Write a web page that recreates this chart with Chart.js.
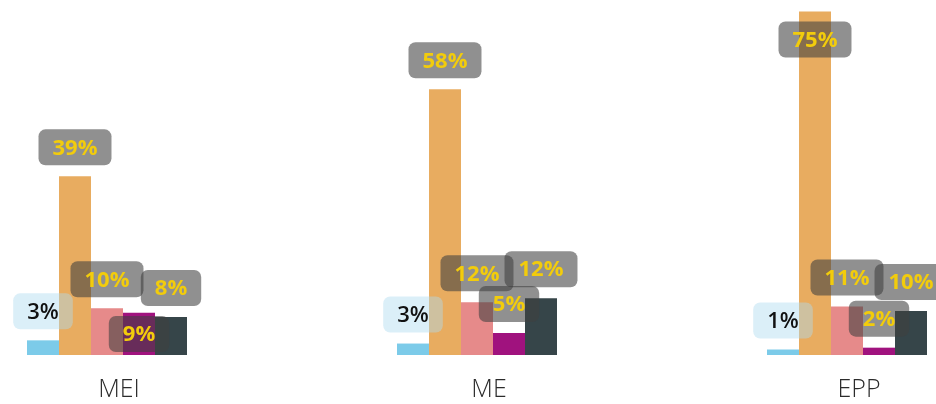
<!DOCTYPE html>
<html>
<head>
<meta charset="utf-8">
<script src="https://cdn.jsdelivr.net/npm/chart.js@4.4.1/dist/chart.umd.min.js"></script>
<style>
  html, body { margin: 0; padding: 0; background: #fff; }
  #wrap { position: relative; width: 936px; height: 404px; overflow: hidden; }
  #chart { position: absolute; left: -78px; top: 0; }
</style>
</head>
<body>
<div id="wrap"><canvas id="chart" width="1110" height="404"></canvas></div>
<script>
// categories and series values (percent)
const categories = ['MEI', 'ME', 'EPP'];
const seriesA = [3.2, 2.5, 1.2];
const seriesB = [39, 58, 75];
const seriesC = [10.2, 11.5, 10.6];
const seriesD = [9.2, 4.8, 1.6];
const seriesE = [8.3, 12.4, 9.6];

const colors = ['#7ccbe9', '#e8ac60', '#e68a8a', '#a0127e', '#364549'];

// label boxes drawn over the bars
const labelBoxes = {
    id: 'labelBoxes',
    afterDatasetsDraw(chart) {
        const ctx = chart.ctx;
        const placed = [];
        ctx.save();
        chart.data.datasets.forEach((ds, di) => {
            const meta = chart.getDatasetMeta(di);
            meta.data.forEach((bar, i) => {
                const txt = Math.round(ds.data[i]) + '%';
                const first = di === 0;
                ctx.font = (first ? '600 ' : 'bold ') + '22px "Open Sans", sans-serif';
                const w = ctx.measureText(txt).width + 28;
                const h = 36;
                let x = bar.x - w / 2;
                let y = bar.y - 11 - h;
                if (y < 0) {
                    y = bar.y + 10;
                }
                const clash = placed.some(p => p.i === i &&
                    Math.min(p.x + p.w, x + w) - Math.max(p.x, x) > 20 &&
                    Math.min(p.y + p.h, y + h) - Math.max(p.y, y) > 8);
                if (clash) {
                    y = (bar.y + bar.base) / 2 - h / 2;
                }
                placed.push({ i, x, y, w, h });
                ctx.fillStyle = first ? 'rgba(175, 220, 240, 0.45)' : 'rgba(64, 64, 64, 0.58)';
                ctx.beginPath();
                ctx.roundRect(x, y, w, h, 7);
                ctx.fill();
                ctx.fillStyle = first ? '#111' : '#f2cc0c';
                ctx.textAlign = 'center';
                ctx.textBaseline = 'middle';
                ctx.fillText(txt, bar.x, y + h / 2 + 1);
            });
        });
        ctx.restore();
    }
};

new Chart(document.getElementById('chart').getContext('2d'), {
    type: 'bar',
    data: {
        labels: categories,
        datasets: [seriesA, seriesB, seriesC, seriesD, seriesE].map((d, k) => ({
            data: d,
            backgroundColor: colors[k],
            borderWidth: 0,
            barPercentage: 1,
            categoryPercentage: 160 / 370
        }))
    },
    options: {
        responsive: false,
        animation: false,
        layout: { padding: 0 },
        plugins: {
            legend: { display: false },
            tooltip: { enabled: false }
        },
        scales: {
            x: {
                grid: { display: false, drawTicks: false },
                border: { display: false },
                ticks: {
                    color: '#2b2b2b',
                    font: { family: '"Open Sans", sans-serif', size: 25, weight: '300' },
                    padding: 20,
                    labelOffset: 12
                },
                afterFit(scale) { scale.height = 49; }
            },
            y: {
                display: false,
                min: 0,
                max: 77.5
            }
        }
    },
    plugins: [labelBoxes]
});
</script>
</body>
</html>
